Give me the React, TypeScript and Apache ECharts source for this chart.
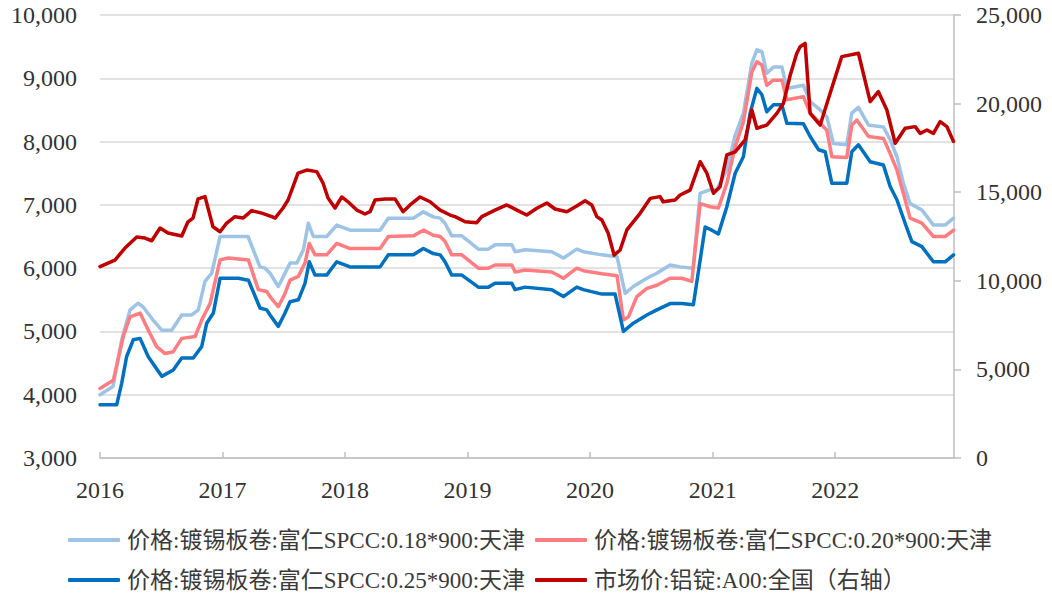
import React, { useEffect, useRef } from "react";
import * as echarts from "echarts";

// x values are decimal years
const yearTicks = [2016, 2017, 2018, 2019, 2020, 2021, 2022];

const names = [
  "价格:镀锡板卷:富仁SPCC:0.18*900:天津",
  "价格:镀锡板卷:富仁SPCC:0.20*900:天津",
  "价格:镀锡板卷:富仁SPCC:0.25*900:天津",
  "市场价:铝锭:A00:全国（右轴）",
];

const spcc018: [number, number][] = [
  [2016.0, 4000], [2016.106, 4130], [2016.177, 4865], [2016.245, 5340], [2016.31, 5445],
  [2016.351, 5390], [2016.433, 5180], [2016.504, 5020], [2016.585, 5020], [2016.667, 5260],
  [2016.749, 5260], [2016.802, 5340], [2016.857, 5790], [2016.912, 5920], [2016.98, 6500],
  [2017.208, 6500], [2017.306, 6020], [2017.347, 6000], [2017.388, 5920], [2017.455, 5710],
  [2017.497, 5870], [2017.551, 6080], [2017.606, 6080], [2017.66, 6290], [2017.7, 6710],
  [2017.741, 6500], [2017.85, 6500], [2017.932, 6680], [2018.041, 6600], [2018.286, 6600],
  [2018.353, 6790], [2018.557, 6790], [2018.639, 6890], [2018.72, 6810], [2018.776, 6790],
  [2018.816, 6710], [2018.871, 6510], [2018.953, 6510], [2019.088, 6300], [2019.17, 6300],
  [2019.224, 6370], [2019.361, 6370], [2019.388, 6260], [2019.469, 6290], [2019.687, 6260],
  [2019.782, 6160], [2019.891, 6300], [2019.945, 6260], [2020.096, 6210], [2020.22, 6180],
  [2020.286, 5600], [2020.353, 5710], [2020.463, 5840], [2020.545, 5920], [2020.653, 6050],
  [2020.735, 6020], [2020.841, 6000], [2020.898, 7180], [2020.98, 7240], [2021.034, 7240],
  [2021.116, 7550], [2021.184, 8100], [2021.251, 8450], [2021.32, 9240], [2021.361, 9450],
  [2021.402, 9420], [2021.442, 9080], [2021.496, 9180], [2021.565, 9180], [2021.606, 8840],
  [2021.741, 8890], [2021.796, 8630], [2021.878, 8500], [2021.932, 8390], [2021.986, 7970],
  [2022.095, 7950], [2022.136, 8450], [2022.19, 8540], [2022.272, 8260], [2022.394, 8230],
  [2022.449, 8030], [2022.504, 7760], [2022.557, 7340], [2022.612, 7020], [2022.708, 6920],
  [2022.802, 6680], [2022.898, 6680], [2022.966, 6790],
];

const spcc020: [number, number][] = [
  [2016.0, 4100], [2016.109, 4230], [2016.19, 4920], [2016.245, 5230], [2016.327, 5290],
  [2016.394, 5020], [2016.462, 4760], [2016.531, 4650], [2016.598, 4680], [2016.667, 4890],
  [2016.776, 4920], [2016.83, 5180], [2016.898, 5440], [2016.98, 6130], [2017.047, 6160],
  [2017.211, 6130], [2017.292, 5660], [2017.361, 5630], [2017.388, 5550], [2017.455, 5390],
  [2017.51, 5600], [2017.551, 5810], [2017.619, 5870], [2017.673, 6080], [2017.708, 6390],
  [2017.755, 6210], [2017.85, 6210], [2017.932, 6390], [2018.041, 6310], [2018.286, 6310],
  [2018.353, 6500], [2018.557, 6510], [2018.639, 6600], [2018.72, 6520], [2018.776, 6500],
  [2018.816, 6420], [2018.871, 6210], [2018.953, 6210], [2019.088, 6000], [2019.17, 6000],
  [2019.224, 6050], [2019.361, 6050], [2019.388, 5940], [2019.469, 5970], [2019.687, 5940],
  [2019.782, 5840], [2019.891, 6000], [2019.945, 5960], [2020.096, 5910], [2020.22, 5880],
  [2020.272, 5180], [2020.313, 5230], [2020.381, 5550], [2020.463, 5680], [2020.545, 5730],
  [2020.653, 5840], [2020.748, 5840], [2020.83, 5790], [2020.898, 7020], [2020.98, 6970],
  [2021.047, 6950], [2021.116, 7340], [2021.184, 7920], [2021.251, 8310], [2021.32, 9100],
  [2021.361, 9260], [2021.402, 9210], [2021.442, 8890], [2021.496, 8970], [2021.565, 8970],
  [2021.606, 8660], [2021.741, 8710], [2021.796, 8450], [2021.878, 8290], [2021.932, 8180],
  [2021.973, 7760], [2022.095, 7750], [2022.136, 8260], [2022.177, 8340], [2022.272, 8080],
  [2022.394, 8050], [2022.449, 7810], [2022.504, 7550], [2022.557, 7180], [2022.612, 6790],
  [2022.708, 6710], [2022.802, 6500], [2022.898, 6500], [2022.966, 6600],
];

const spcc025: [number, number][] = [
  [2016.0, 3840], [2016.136, 3840], [2016.177, 4180], [2016.217, 4600], [2016.272, 4870],
  [2016.327, 4890], [2016.394, 4600], [2016.504, 4290], [2016.598, 4390], [2016.667, 4580],
  [2016.761, 4580], [2016.83, 4760], [2016.871, 5130], [2016.925, 5290], [2016.98, 5840],
  [2017.129, 5840], [2017.211, 5810], [2017.306, 5370], [2017.361, 5340], [2017.388, 5260],
  [2017.455, 5080], [2017.51, 5290], [2017.551, 5470], [2017.619, 5500], [2017.673, 5760],
  [2017.708, 6100], [2017.755, 5890], [2017.85, 5890], [2017.932, 6100], [2018.041, 6020],
  [2018.286, 6020], [2018.353, 6210], [2018.557, 6210], [2018.639, 6310], [2018.72, 6230],
  [2018.776, 6210], [2018.816, 6100], [2018.871, 5890], [2018.953, 5890], [2019.088, 5700],
  [2019.17, 5700], [2019.224, 5760], [2019.361, 5760], [2019.388, 5660], [2019.469, 5700],
  [2019.687, 5660], [2019.782, 5550], [2019.891, 5700], [2019.945, 5660], [2020.096, 5590],
  [2020.204, 5590], [2020.272, 5000], [2020.353, 5130], [2020.463, 5260], [2020.545, 5340],
  [2020.653, 5440], [2020.748, 5440], [2020.843, 5420], [2020.939, 6650], [2020.993, 6600],
  [2021.047, 6540], [2021.116, 6970], [2021.184, 7500], [2021.251, 7760], [2021.306, 8450],
  [2021.361, 8840], [2021.402, 8740], [2021.442, 8470], [2021.496, 8580], [2021.565, 8580],
  [2021.606, 8290], [2021.741, 8280], [2021.796, 8080], [2021.865, 7870], [2021.918, 7840],
  [2021.973, 7340], [2022.095, 7340], [2022.136, 7840], [2022.19, 7950], [2022.286, 7680],
  [2022.394, 7630], [2022.449, 7290], [2022.504, 7080], [2022.571, 6710], [2022.626, 6420],
  [2022.708, 6340], [2022.802, 6100], [2022.898, 6100], [2022.966, 6210],
];

const aluminumA00: [number, number][] = [
  [2016.0, 10800], [2016.122, 11170], [2016.204, 11850], [2016.3, 12470], [2016.367, 12410],
  [2016.422, 12260], [2016.49, 12980], [2016.555, 12700], [2016.667, 12530], [2016.718, 13330],
  [2016.759, 13540], [2016.8, 14620], [2016.857, 14750], [2016.922, 13050], [2016.98, 12770],
  [2017.034, 13260], [2017.102, 13620], [2017.167, 13540], [2017.238, 13960], [2017.32, 13820],
  [2017.402, 13620], [2017.429, 13540], [2017.494, 14110], [2017.535, 14560], [2017.616, 16080],
  [2017.687, 16250], [2017.769, 16160], [2017.82, 15520], [2017.861, 14670], [2017.918, 14110],
  [2017.973, 14730], [2018.024, 14460], [2018.096, 13990], [2018.163, 13770], [2018.204, 13900],
  [2018.245, 14560], [2018.327, 14620], [2018.408, 14620], [2018.473, 13900], [2018.531, 14280],
  [2018.612, 14730], [2018.694, 14460], [2018.776, 13990], [2018.857, 13710], [2018.898, 13620],
  [2018.98, 13330], [2019.075, 13280], [2019.116, 13620], [2019.224, 13990], [2019.32, 14280],
  [2019.402, 13990], [2019.483, 13710], [2019.565, 14090], [2019.647, 14390], [2019.714, 14050],
  [2019.81, 13900], [2019.891, 14220], [2019.959, 14520], [2020.014, 14280], [2020.055, 13620],
  [2020.096, 13430], [2020.147, 12700], [2020.196, 11450], [2020.245, 11740], [2020.3, 12870],
  [2020.408, 13810], [2020.49, 14650], [2020.571, 14750], [2020.596, 14460], [2020.694, 14560],
  [2020.735, 14840], [2020.816, 15120], [2020.898, 16720], [2020.953, 16070], [2021.007, 14940],
  [2021.061, 15310], [2021.116, 17100], [2021.184, 17280], [2021.265, 17950], [2021.32, 19640],
  [2021.361, 18610], [2021.442, 18790], [2021.524, 19450], [2021.578, 20020], [2021.633, 21600],
  [2021.687, 22840], [2021.714, 23210], [2021.755, 23400], [2021.796, 19450], [2021.878, 18790],
  [2021.959, 20580], [2022.054, 22650], [2022.19, 22840], [2022.286, 20110], [2022.353, 20670],
  [2022.422, 19640], [2022.49, 17760], [2022.571, 18610], [2022.653, 18700], [2022.694, 18320],
  [2022.749, 18510], [2022.802, 18320], [2022.857, 18980], [2022.912, 18700], [2022.966, 17860],
];

const colors = ["#9DC3E6", "#FF7C80", "#0070C0", "#C00000"];
const serif = "'Liberation Serif', 'Times New Roman', serif";
const legendFont = "'Liberation Serif', 'Noto Sans CJK SC', serif";
const labelColor = "#333333";

const fmt = (v: number) => String(v).replace(/\B(?=(\d{3})+(?!\d))/g, ",");

export default function App() {
  const ref = useRef<HTMLDivElement>(null);
  useEffect(() => {
    if (!ref.current) return;
    const chart = echarts.init(ref.current, undefined, { renderer: "svg" });
    const seriesData = [spcc018, spcc020, spcc025, aluminumA00];
    const legendPos = [
      { left: 68, top: 527 },
      { left: 535, top: 527 },
      { left: 68, top: 567 },
      { left: 535, top: 567 },
    ];
    chart.setOption({
      animation: false,
      backgroundColor: "#ffffff",
      grid: { left: 100, right: 98, top: 15, bottom: 135, containLabel: false },
      legend: names.map((n, i) => ({
        data: [n],
        left: legendPos[i].left,
        top: legendPos[i].top,
        padding: 0,
        itemWidth: 52,
        itemHeight: 4,
        icon: "roundRect",
        textStyle: { fontSize: 23, fontFamily: legendFont, color: "#3a3a3a", lineHeight: 26, padding: [0, 0, 0, 2] },
      })),
      xAxis: {
        type: "value",
        min: 2016,
        max: 2022.97,
        interval: 1,
        axisLine: { show: true, lineStyle: { color: "#bfbfbf", width: 1.5 } },
        axisTick: { show: true, inside: true, length: 6, lineStyle: { color: "#bfbfbf", width: 1.5 } },
        splitLine: { show: false },
        axisLabel: {
          showMaxLabel: false,
          margin: 20,
          fontSize: 24,
          fontFamily: serif,
          color: labelColor,
          formatter: (v: number) => (yearTicks.includes(v) ? String(v) : ""),
        },
      },
      yAxis: [
        {
          type: "value",
          min: 3000,
          max: 10000,
          interval: 1000,
          axisLine: { show: false },
          axisTick: { show: false },
          splitLine: { show: true, lineStyle: { color: "#d9d9d9", width: 1.5 } },
          axisLabel: { margin: 23, fontSize: 24, fontFamily: serif, color: labelColor, formatter: (v: number) => fmt(v) },
        },
        {
          type: "value",
          position: "right",
          min: 0,
          max: 25000,
          interval: 5000,
          axisLine: { show: true, lineStyle: { color: "#bfbfbf", width: 1.5 } },
          axisTick: { show: true, inside: false, length: 7, lineStyle: { color: "#bfbfbf", width: 1.5 } },
          splitLine: { show: false },
          axisLabel: { margin: 22, fontSize: 24, fontFamily: serif, color: labelColor, formatter: (v: number) => fmt(v) },
        },
      ],
      series: names.map((n, i) => ({
        name: n,
        type: "line",
        yAxisIndex: i === 3 ? 1 : 0,
        data: seriesData[i],
        showSymbol: false,
        symbol: "none",
        lineStyle: { color: colors[i], width: 3.5, join: "round", cap: "round" },
        itemStyle: { color: colors[i] },
        z: 2 + i,
      })),
    });
    return () => chart.dispose();
  }, []);
  return (
    <div
      ref={ref}
      style={{ position: "fixed", left: 0, top: 0, width: 1052, height: 593, background: "#fff" }}
    />
  );
}
